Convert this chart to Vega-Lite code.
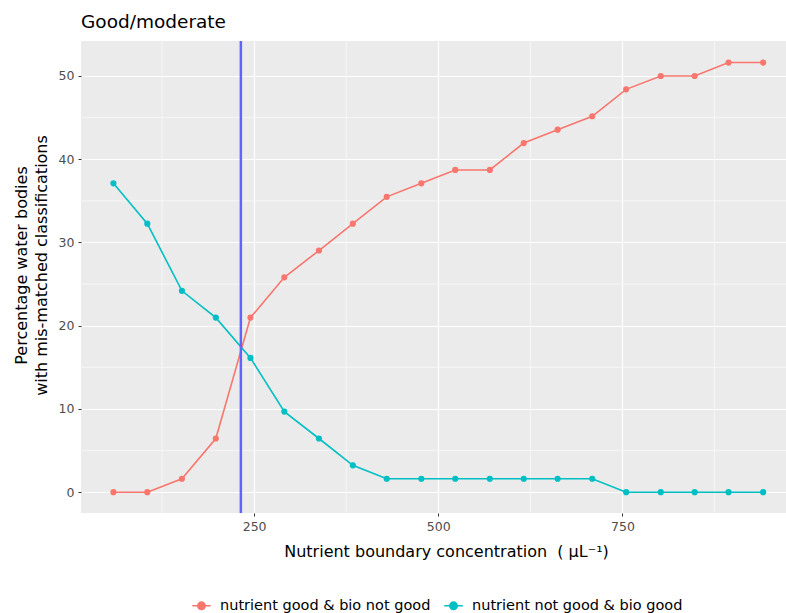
{
  "$schema": "https://vega.github.io/schema/vega-lite/v6.json",
  "width": 705,
  "height": 472,
  "autosize": {"type": "none"},
  "padding": {"left": 81, "top": 41, "right": 0, "bottom": 100},
  "background": "white",
  "config": {
    "font": "DejaVu Sans",
    "view": {"fill": "#EBEBEB", "stroke": null},
    "axis": {
      "domain": false,
      "gridColor": "white",
      "gridWidth": 1.2,
      "tickColor": "#333333",
      "tickSize": 3,
      "labelColor": "#4d4d4d",
      "labelFontSize": 12.5,
      "labelPadding": 4,
      "titleColor": "black",
      "titleFontSize": 16,
      "titleFontWeight": "normal"
    }
  },
  "title": {
    "text": "Good/moderate",
    "anchor": "start",
    "frame": "group",
    "fontSize": 18.5,
    "fontWeight": "normal",
    "color": "black",
    "offset": 8
  },
  "datasets": {
    "minorx": [{"v": 125}, {"v": 375}, {"v": 625}, {"v": 875}],
    "minory": [{"v": 5}, {"v": 15}, {"v": 25}, {"v": 35}, {"v": 45}],
    "boundary": [{"b": 232}],
    "main": [
      {"conc": 59, "pct": 0, "series": "nutrient good & bio not good"},
      {"conc": 105, "pct": 0, "series": "nutrient good & bio not good"},
      {"conc": 152, "pct": 1.61, "series": "nutrient good & bio not good"},
      {"conc": 198, "pct": 6.45, "series": "nutrient good & bio not good"},
      {"conc": 245, "pct": 20.97, "series": "nutrient good & bio not good"},
      {"conc": 291, "pct": 25.81, "series": "nutrient good & bio not good"},
      {"conc": 338, "pct": 29.03, "series": "nutrient good & bio not good"},
      {"conc": 384, "pct": 32.26, "series": "nutrient good & bio not good"},
      {"conc": 430, "pct": 35.48, "series": "nutrient good & bio not good"},
      {"conc": 477, "pct": 37.1, "series": "nutrient good & bio not good"},
      {"conc": 523, "pct": 38.71, "series": "nutrient good & bio not good"},
      {"conc": 570, "pct": 38.71, "series": "nutrient good & bio not good"},
      {"conc": 616, "pct": 41.94, "series": "nutrient good & bio not good"},
      {"conc": 662, "pct": 43.55, "series": "nutrient good & bio not good"},
      {"conc": 709, "pct": 45.16, "series": "nutrient good & bio not good"},
      {"conc": 755, "pct": 48.39, "series": "nutrient good & bio not good"},
      {"conc": 802, "pct": 50, "series": "nutrient good & bio not good"},
      {"conc": 848, "pct": 50, "series": "nutrient good & bio not good"},
      {"conc": 894, "pct": 51.61, "series": "nutrient good & bio not good"},
      {"conc": 941, "pct": 51.61, "series": "nutrient good & bio not good"},
      {"conc": 59, "pct": 37.1, "series": "nutrient not good & bio good"},
      {"conc": 105, "pct": 32.26, "series": "nutrient not good & bio good"},
      {"conc": 152, "pct": 24.19, "series": "nutrient not good & bio good"},
      {"conc": 198, "pct": 20.97, "series": "nutrient not good & bio good"},
      {"conc": 245, "pct": 16.13, "series": "nutrient not good & bio good"},
      {"conc": 291, "pct": 9.68, "series": "nutrient not good & bio good"},
      {"conc": 338, "pct": 6.45, "series": "nutrient not good & bio good"},
      {"conc": 384, "pct": 3.23, "series": "nutrient not good & bio good"},
      {"conc": 430, "pct": 1.61, "series": "nutrient not good & bio good"},
      {"conc": 477, "pct": 1.61, "series": "nutrient not good & bio good"},
      {"conc": 523, "pct": 1.61, "series": "nutrient not good & bio good"},
      {"conc": 570, "pct": 1.61, "series": "nutrient not good & bio good"},
      {"conc": 616, "pct": 1.61, "series": "nutrient not good & bio good"},
      {"conc": 662, "pct": 1.61, "series": "nutrient not good & bio good"},
      {"conc": 709, "pct": 1.61, "series": "nutrient not good & bio good"},
      {"conc": 755, "pct": 0, "series": "nutrient not good & bio good"},
      {"conc": 802, "pct": 0, "series": "nutrient not good & bio good"},
      {"conc": 848, "pct": 0, "series": "nutrient not good & bio good"},
      {"conc": 894, "pct": 0, "series": "nutrient not good & bio good"},
      {"conc": 941, "pct": 0, "series": "nutrient not good & bio good"}
    ]
  },
  "layer": [
    {
      "data": {"name": "minorx"},
      "mark": {"type": "rule", "color": "white", "strokeWidth": 0.6},
      "encoding": {
        "x": {"field": "v", "type": "quantitative", "scale": {"domain": [15, 972], "nice": false, "zero": false}}
      }
    },
    {
      "data": {"name": "minory"},
      "mark": {"type": "rule", "color": "white", "strokeWidth": 0.6},
      "encoding": {
        "y": {"field": "v", "type": "quantitative", "scale": {"domain": [-2.5, 54.2], "nice": false, "zero": false}}
      }
    },
    {
      "data": {"name": "main"},
      "mark": {"type": "line", "strokeWidth": 1.6},
      "encoding": {
        "x": {
          "field": "conc", "type": "quantitative",
          "scale": {"domain": [15, 972], "nice": false, "zero": false},
          "axis": {"values": [250, 500, 750], "title": "Nutrient boundary concentration\u00a0\u00a0(\u00a0μL⁻¹)", "titleX": 365, "titlePadding": 11}
        },
        "y": {
          "field": "pct", "type": "quantitative",
          "scale": {"domain": [-2.5, 54.2], "nice": false, "zero": false},
          "axis": {"values": [0, 10, 20, 30, 40, 50], "title": ["Percentage water bodies", "with mis-matched classifications"], "titlePadding": 9, "titleLineHeight": 20, "titleY": 224}
        },
        "color": {
          "field": "series", "type": "nominal",
          "scale": {"range": ["#F8766D", "#00BFC4"]},
          "legend": {
            "title": null,
            "orient": "none",
            "direction": "horizontal",
            "legendX": 110,
            "legendY": 554,
            "symbolType": "M -1 0 L 1 0 M 0.4 0 A 0.4 0.4 0 1 1 -0.4 0 A 0.4 0.4 0 1 1 0.4 0",
            "symbolSize": 340,
            "symbolStrokeWidth": 1.6,
            "labelFontSize": 14.5,
            "labelLimit": 0,
            "labelColor": "black",
            "labelOffset": 8,
            "columnPadding": 10
          }
        }
      }
    },
    {
      "data": {"name": "main"},
      "mark": {"type": "point", "filled": true, "size": 38, "opacity": 1},
      "encoding": {
        "x": {"field": "conc", "type": "quantitative"},
        "y": {"field": "pct", "type": "quantitative"},
        "color": {"field": "series", "type": "nominal"}
      }
    },
    {
      "data": {"name": "boundary"},
      "mark": {"type": "rule", "color": "#6262ff", "strokeWidth": 2.5},
      "encoding": {
        "x": {"field": "b", "type": "quantitative"}
      }
    }
  ]
}
